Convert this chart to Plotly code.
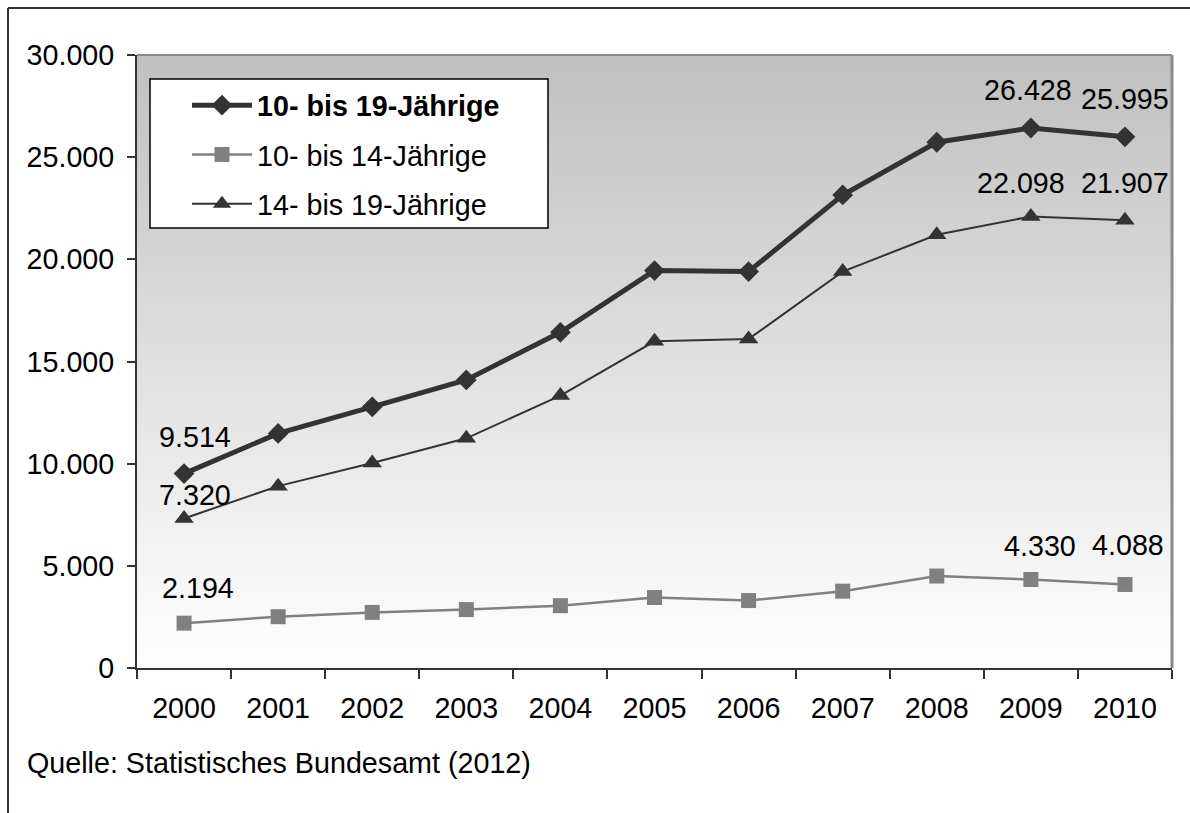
import plotly.graph_objects as go

# Jahre und Werte je Altersgruppe
jahre = ["2000", "2001", "2002", "2003", "2004", "2005", "2006", "2007", "2008", "2009", "2010"]
gesamt_10_19 = [9514, 11480, 12780, 14100, 16430, 19450, 19400, 23150, 25730, 26428, 25995]
gruppe_10_14 = [2194, 2510, 2720, 2860, 3050, 3450, 3300, 3760, 4500, 4330, 4088]
gruppe_14_19 = [7320, 8900, 10030, 11240, 13330, 15990, 16100, 19400, 21200, 22098, 21907]

y_ticks = [0, 5000, 10000, 15000, 20000, 25000, 30000]
quelle = "Quelle: Statistisches Bundesamt (2012)"

FONT = "Arial, 'Liberation Sans', sans-serif"
FS = 28.7
DARK = "#333333"
GREY = "#808080"

W, H = 1190, 813
ML, MR, MT, MB = 137, 18, 55, 145
PW = W - ML - MR
PH = H - MT - MB


def px_x(px):
    return (px - ML) / PW


def px_y(py):
    return (H - MB - py) / PH


def de(v):
    return f"{v:,}".replace(",", ".")


fig = go.Figure()

fig.add_trace(go.Scatter(
    x=jahre, y=gesamt_10_19, name="<b>10- bis 19-Jährige</b>",
    mode="lines+markers", legendgroup="a",
    line=dict(color=DARK, width=5),
    marker=dict(symbol="diamond", size=16, color=DARK),
))
fig.add_trace(go.Scatter(
    x=jahre, y=gruppe_10_14, name="10- bis 14-Jährige",
    mode="lines+markers", legendgroup="b",
    line=dict(color=GREY, width=2.5),
    marker=dict(symbol="square", size=15, color=GREY),
))
fig.add_trace(go.Scatter(
    x=jahre, y=gruppe_14_19, name="14- bis 19-Jährige",
    mode="lines+markers", legendgroup="c",
    line=dict(color=DARK, width=2),
    marker=dict(symbol="triangle-up", size=17, color=DARK),
))

# Wertebeschriftungen an Anfang und Ende der Reihen
beschriftung = [
    (gesamt_10_19, [(0, 11, 37), (9, -3, 38), (10, 0, 38)]),
    (gruppe_14_19, [(0, 11, 23), (9, -10, 33), (10, 0, 37)]),
    (gruppe_10_14, [(0, 14, 35), (9, 9, 34), (10, 3, 39)]),
]
for werte, punkte in beschriftung:
    for i, dx, dy in punkte:
        fig.add_annotation(
            x=i, y=werte[i], xref="x", yref="y",
            text=de(werte[i]), showarrow=False,
            xshift=dx, yshift=dy, font=dict(family=FONT, size=FS, color="#000000"),
        )

shapes = []
# vertikaler Grauverlauf im Diagrammbereich
n = 90
ov = 1.5 / PH
for k in range(n):
    t = (k + 0.5) / n
    g = round(255 - (255 - 192) * t)
    shapes.append(dict(
        type="rect", xref="paper", yref="paper",
        x0=0, x1=1, y0=max(0, k / n - ov), y1=min(1, (k + 1) / n + ov),
        fillcolor=f"rgb({g},{g},{g})", line=dict(width=0), layer="below",
    ))
# obere und rechte Begrenzung des Diagrammbereichs
shapes.append(dict(type="line", xref="paper", yref="paper", x0=0, x1=1, y0=1, y1=1,
                   line=dict(color="#8a8a8a", width=2), layer="below"))
shapes.append(dict(type="line", xref="paper", yref="paper", x0=1, x1=1, y0=0, y1=1,
                   line=dict(color="#8a8a8a", width=3), layer="below"))
# Legendenkasten
shapes.append(dict(type="rect", xref="paper", yref="paper",
                   x0=px_x(150), x1=px_x(548), y0=px_y(228), y1=px_y(79),
                   fillcolor="#ffffff", line=dict(color="#000000", width=1.5), layer="above"))
# äußerer Rahmen
shapes.append(dict(type="line", xref="paper", yref="paper",
                   x0=px_x(8), x1=px_x(1192), y0=px_y(8), y1=px_y(8),
                   line=dict(color=DARK, width=2)))
shapes.append(dict(type="line", xref="paper", yref="paper",
                   x0=px_x(8), x1=px_x(8), y0=px_y(8), y1=px_y(815),
                   line=dict(color=DARK, width=2)))

fig.add_annotation(
    xref="paper", yref="paper", x=px_x(25), y=px_y(763),
    xanchor="left", yanchor="middle", showarrow=False, text=quelle,
    font=dict(family=FONT, size=FS, color="#000000"),
)

fig.update_layout(
    width=W, height=H,
    margin=dict(l=ML, r=MR, t=MT, b=MB, pad=0),
    paper_bgcolor="#ffffff", plot_bgcolor="#ffffff",
    font=dict(family=FONT, size=FS, color="#000000"),
    shapes=shapes,
    showlegend=True,
    legend=dict(
        x=px_x(187), y=px_y(80), xanchor="left", yanchor="top",
        bgcolor="rgba(0,0,0,0)", borderwidth=0,
        font=dict(family=FONT, size=FS, color="#000000"),
        itemwidth=60, tracegroupgap=9, traceorder="grouped",
    ),
    xaxis=dict(
        type="category", range=[-0.5, 10.5], tickson="boundaries",
        ticks="outside", ticklen=9, tickwidth=1.5, tickcolor=DARK,
        showline=True, linecolor=DARK, linewidth=2, showgrid=False,
        zeroline=False, ticklabelstandoff=14,
        tickfont=dict(family=FONT, size=FS, color="#000000"),
    ),
    yaxis=dict(
        range=[0, 30000], tickvals=y_ticks, ticktext=[de(v) for v in y_ticks],
        ticks="outside", ticklen=8, tickwidth=1.5, tickcolor=DARK,
        showline=True, linecolor=DARK, linewidth=2, showgrid=False,
        zeroline=False, ticklabelstandoff=7,
        tickfont=dict(family=FONT, size=FS, color="#000000"),
    ),
)

fig.write_html("out.html")
